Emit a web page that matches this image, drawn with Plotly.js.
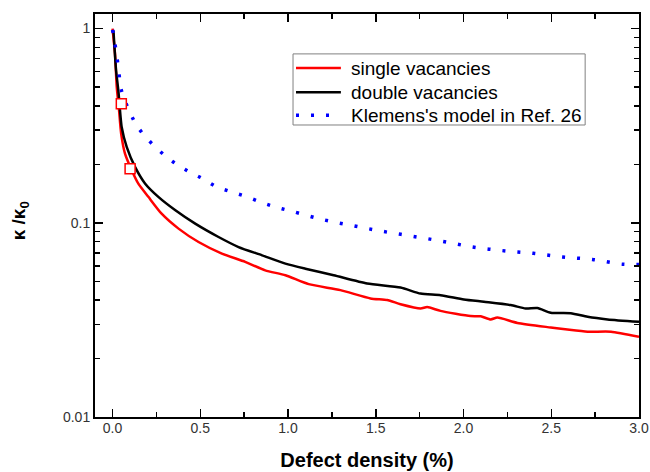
<!DOCTYPE html>
<html>
<head>
<meta charset="utf-8">
<script src="https://cdn.plot.ly/plotly-3.0.1.min.js"></script>
<style>html,body{margin:0;padding:0;background:#fff;}#chart{width:650px;height:472px;}</style>
</head>
<body>
<div id="chart"></div>
<script>
// Defect density (%) and normalized thermal conductivity
const singleX = [0.0, 0.014, 0.024, 0.037, 0.049, 0.071, 0.11, 0.147, 0.204, 0.281, 0.376, 0.49, 0.623, 0.756, 0.87, 0.985, 1.118, 1.298, 1.47, 1.565, 1.641, 1.755, 1.793, 1.869, 2.04, 2.098, 2.155, 2.193, 2.307, 2.497, 2.592, 2.707, 2.84, 3.0];
const singleY = [1.0, 0.74, 0.50, 0.38, 0.288, 0.227, 0.186, 0.159, 0.136, 0.111, 0.0933, 0.0796, 0.0694, 0.0629, 0.0569, 0.0537, 0.0483, 0.045, 0.0408, 0.040, 0.0381, 0.0362, 0.0368, 0.0352, 0.0331, 0.033, 0.0318, 0.0325, 0.0305, 0.0289, 0.0282, 0.0275, 0.0275, 0.0259];

const doubleX = [0.005, 0.02, 0.033, 0.052, 0.081, 0.128, 0.186, 0.261, 0.358, 0.471, 0.604, 0.718, 0.852, 0.985, 1.099, 1.26, 1.451, 1.641, 1.755, 1.869, 2.002, 2.116, 2.269, 2.354, 2.421, 2.497, 2.611, 2.707, 2.821, 3.0];
const doubleY = [0.98, 0.61, 0.48, 0.311, 0.245, 0.194, 0.159, 0.136, 0.116, 0.099, 0.0845, 0.075, 0.068, 0.0616, 0.058, 0.0537, 0.0487, 0.0464, 0.0432, 0.0424, 0.0403, 0.0392, 0.0377, 0.0362, 0.0364, 0.0344, 0.0342, 0.0328, 0.0318, 0.0309];

const klemensX = [0.0, 0.014, 0.027, 0.037, 0.049, 0.119, 0.176, 0.256, 0.338, 0.427, 0.513, 0.595, 0.68, 0.766, 0.852, 0.937, 1.023, 1.194, 1.365, 1.537, 1.708, 1.879, 2.05, 2.221, 2.393, 2.564, 2.735, 2.906, 3.0];
const klemensY = [0.985, 0.83, 0.69, 0.585, 0.486, 0.34, 0.285, 0.24, 0.208, 0.185, 0.169, 0.153, 0.144, 0.136, 0.127, 0.12, 0.1146, 0.104, 0.0968, 0.0904, 0.0853, 0.0803, 0.0751, 0.0719, 0.0697, 0.0667, 0.0647, 0.0612, 0.061];

const mdX = [0.05, 0.1];
const mdY = [0.41, 0.19];

const seriesNames = ["single vacancies", "double vacancies", "Klemens's model in Ref. 26"];
const seriesColors = ["#ff0000", "#000000", "#0000ff"];
const seriesDash = ["solid", "solid", "3px,12px"];
const seriesWidth = [2.5, 2.5, 3.5];

const yTickVals = [0.01, 0.1, 1];
const yTickText = ["0.01", "0.1", "1"];
const yMinorVals = [0.02, 0.03, 0.04, 0.05, 0.06, 0.07, 0.08, 0.09, 0.2, 0.3, 0.4, 0.5, 0.6, 0.7, 0.8, 0.9];

const font = "Arial, 'Liberation Sans', sans-serif";

const traces = [
  {x: singleX, y: singleY, name: seriesNames[0], mode: "lines", showlegend: false,
   line: {color: seriesColors[0], width: seriesWidth[0], shape: "spline", smoothing: 0.6}},
  {x: doubleX, y: doubleY, name: seriesNames[1], mode: "lines", showlegend: false,
   line: {color: seriesColors[1], width: seriesWidth[1], shape: "spline", smoothing: 0.6}},
  {x: klemensX, y: klemensY, name: seriesNames[2], mode: "lines", showlegend: false,
   line: {color: seriesColors[2], width: seriesWidth[2], dash: seriesDash[2], shape: "spline"}},
  {x: mdX, y: mdY, mode: "markers", showlegend: false,
   marker: {symbol: "square", size: 10, color: "#ffffff", line: {color: "#ff0000", width: 1.5}}}
];

// Legend drawn as a boxed key (paper coordinates)
const legendBox = {x0: 0.364, x1: 0.901, y0: 0.7246, y1: 0.901};
const legendRows = [0.866, 0.806, 0.749];
const shapes = [{type: "rect", xref: "paper", yref: "paper", x0: legendBox.x0, x1: legendBox.x1, y0: legendBox.y0, y1: legendBox.y1,
                 line: {color: "#808080", width: 1}, fillcolor: "#ffffff", layer: "above"}];
const annotations = [];
seriesNames.forEach((nm, i) => {
  shapes.push({type: "line", xref: "paper", yref: "paper", x0: 0.3695, x1: 0.452, y0: legendRows[i], y1: legendRows[i],
               line: {color: seriesColors[i], width: i === 2 ? 3.5 : 2.5, dash: seriesDash[i]}, layer: "above"});
  annotations.push({xref: "paper", yref: "paper", x: 0.467, y: legendRows[i], xanchor: "left", yanchor: "middle",
                    text: nm, showarrow: false, font: {family: font, size: 19, color: "#000"}});
});

const layout = {
  width: 650, height: 472,
  margin: {l: 95, r: 11, t: 14, b: 55},
  paper_bgcolor: "#ffffff", plot_bgcolor: "#ffffff",
  showlegend: false,
  shapes: shapes,
  annotations: annotations,
  xaxis: {
    range: [-0.1, 3.0], showgrid: false, zeroline: false,
    showline: true, linecolor: "#000", linewidth: 2, mirror: "ticks",
    ticks: "inside", ticklen: 8, tickwidth: 1.5, tickcolor: "#000",
    dtick: 0.5, tick0: 0, tickformat: ".1f", ticklabelstandoff: -3,
    minor: {ticks: "inside", ticklen: 5, tickwidth: 1.5, dtick: 0.25, tick0: 0, tickcolor: "#000"},
    tickfont: {family: font, size: 14, color: "#333"},
    title: {text: "<b>Defect density (%)</b>", font: {family: font, size: 20, color: "#000"}, standoff: 18}
  },
  yaxis: {
    type: "log", range: [-2, 0.075], showgrid: false, zeroline: false,
    showline: true, linecolor: "#000", linewidth: 2, mirror: "ticks",
    ticks: "inside", ticklen: 8, tickwidth: 1.5, tickcolor: "#000",
    tickmode: "array", tickvals: yTickVals, ticktext: yTickText,
    minor: {ticks: "inside", ticklen: 5, tickwidth: 1.5, tickmode: "array", tickvals: yMinorVals, tickcolor: "#000"},
    tickfont: {family: font, size: 14, color: "#333"},
    title: {text: "<b>κ /κ<sub>0</sub>&nbsp;&nbsp;</b>", font: {family: font, size: 19, color: "#000"}, standoff: 32}
  }
};

Plotly.newPlot("chart", traces, layout, {displayModeBar: false, staticPlot: true});
</script>
</body>
</html>
